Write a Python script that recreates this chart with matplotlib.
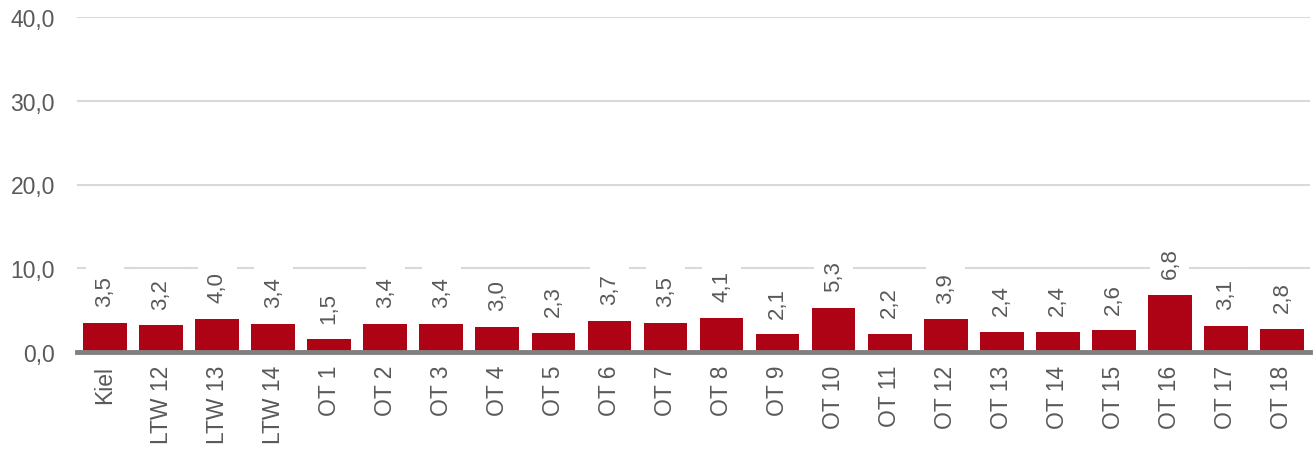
import matplotlib
matplotlib.use("Agg")
import matplotlib.pyplot as plt
from matplotlib.ticker import FuncFormatter

categories = ["Kiel", "LTW 12", "LTW 13", "LTW 14", "OT 1", "OT 2", "OT 3", "OT 4",
              "OT 5", "OT 6", "OT 7", "OT 8", "OT 9", "OT 10", "OT 11", "OT 12",
              "OT 13", "OT 14", "OT 15", "OT 16", "OT 17", "OT 18"]
values = [3.5, 3.2, 4.0, 3.4, 1.5, 3.4, 3.4, 3.0, 2.3, 3.7, 3.5, 4.1, 2.1, 5.3,
          2.2, 3.9, 2.4, 2.4, 2.6, 6.8, 3.1, 2.8]
yticks = [0, 10, 20, 30, 40]

plt.rcParams['font.family'] = ['Liberation Sans', 'DejaVu Sans']
txt = "#595959"
fs = 16.5
fs_lbl = 16

fig = plt.figure(figsize=(13.14, 4.56), dpi=100)
ax = fig.add_axes([77/1314, 1-353/456, (1310-77)/1314, (353-18)/456])

x = list(range(len(categories)))
ax.bar(x, values, width=0.78, color="#AD0315", zorder=3)
ax.set_xlim(-0.5, len(categories) - 0.5)
ax.set_ylim(0, 40)
ax.set_yticks(yticks)
ax.yaxis.set_major_formatter(FuncFormatter(lambda v, p: f"{v:.1f}".replace(".", ",")))
ax.grid(axis="y", color="#D9D9D9", linewidth=1.5, zorder=0)
ax.set_axisbelow(True)
for s in ["top", "right", "left"]:
    ax.spines[s].set_visible(False)
ax.spines["bottom"].set_color("#808080")
ax.spines["bottom"].set_linewidth(3.5)
ax.spines["bottom"].set_zorder(5)
ax.set_xticks(x)
ax.set_xticklabels(categories, rotation=90, fontsize=fs, color=txt)
ax.tick_params(axis="x", length=0, pad=9)
ax.tick_params(axis="y", length=0, pad=16, labelsize=fs, labelcolor=txt)

for xi, v in zip(x, values):
    ax.annotate(f"{v:.1f}".replace(".", ","), (xi, v), xytext=(0, 12),
                textcoords="offset points", rotation=90, ha="center", va="bottom",
                fontsize=fs_lbl, color=txt, zorder=4,
                bbox=dict(boxstyle="square,pad=0.4", fc="white", ec="none"))

fig.savefig("out.png", dpi=100)
